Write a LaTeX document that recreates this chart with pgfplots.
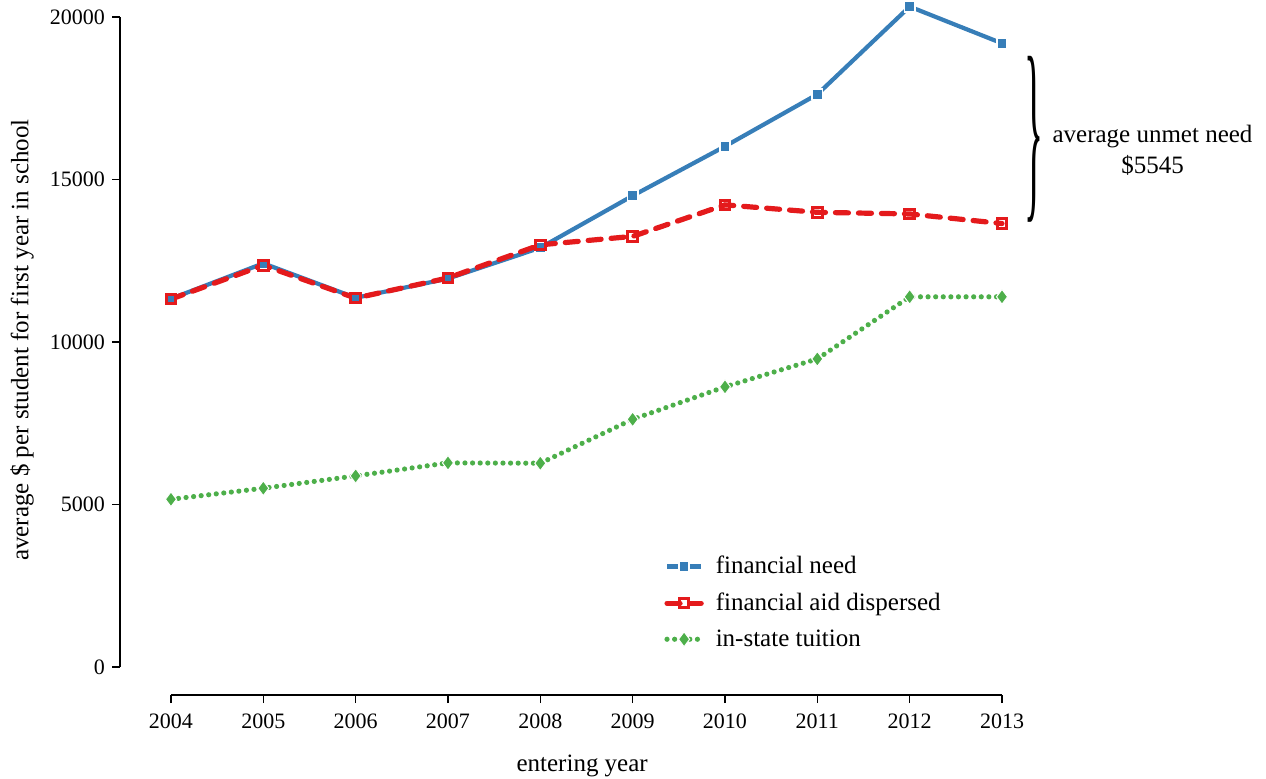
\documentclass[border=0pt]{standalone}
\usepackage{pgfplots}
\pgfplotsset{compat=1.18}
\usepackage{fontspec}
\setmainfont{Liberation Serif}
\definecolor{needblue}{HTML}{377EB8}
\definecolor{aidred}{HTML}{E41A1C}
\definecolor{tuitgreen}{HTML}{4DAF4A}

\begin{document}
\begin{tikzpicture}
\path[use as bounding box] (0pt,0pt) rectangle (633pt,389pt);
\begin{axis}[
  at={(60pt,41.5pt)}, anchor=south west,
  scale only axis, width=441pt, height=339pt,
  xmin=2003.448, xmax=2013, ymin=-862, ymax=20000,
  axis x line*=bottom, axis y line*=left,
  axis line style={draw=none},
  clip=false,
  xtick={2004,2005,...,2013},
  ytick={0,5000,10000,15000,20000},
  scaled y ticks=false,
  tick align=outside, major tick length=4pt,
  tick style={black, line width=0.6pt},
  /pgf/number format/1000 sep={},
  /pgf/number format/assume math mode=true,
  tick label style={font=\fontsize{11}{13}\selectfont},
  xticklabel style={yshift=-2pt},
  label style={font=\fontsize{12.5}{15}\selectfont},
  xlabel={entering year},
  ylabel={average \$ per student for first year in school},
  xlabel style={at={(axis description cs:0.524,-0.105)}, anchor=center},
  ylabel style={at={(axis description cs:-0.111,0.5236)}, anchor=center},
  legend style={at={(axis description cs:0.61,0.217)}, anchor=north west,
    draw=none, fill=none, font=\fontsize{12.5}{15}\selectfont,
    row sep=4pt, column sep=4pt},
  legend cell align=left,
]
\draw[line width=0.6pt] (axis cs:2003.448,0) -- (axis cs:2003.448,20000);
\draw[line width=0.6pt] (axis cs:2004,-862) -- (axis cs:2013,-862);

\addplot[needblue, line width=2.1pt, mark=square*, mark size=2.6pt,
  mark options={solid, fill=needblue, draw=white, line width=0.9pt}]
  coordinates {
  (2004,11330) (2005,12420) (2006,11360) (2007,11950) (2008,12900)
  (2009,14500) (2010,16020) (2011,17620) (2012,20320) (2013,19190)
};
\addlegendentry{financial need}

\addplot[aidred, line width=2.6pt, line cap=round, dash pattern=on 6.5pt off 5pt,
  mark=square, mark size=2.4pt,
  mark options={solid, draw=aidred, line width=1.5pt}]
  coordinates {
  (2004,11320) (2005,12360) (2006,11350) (2007,11970) (2008,12990)
  (2009,13250) (2010,14220) (2011,13990) (2012,13940) (2013,13645)
};
\addlegendentry{financial aid dispersed}

\addplot[tuitgreen, line width=2.6pt, line cap=round, dash pattern=on 0pt off 3.8pt,
  mark=diamond*, mark size=3.7pt,
  mark options={solid, fill=tuitgreen, draw=white, line width=0.5pt}]
  coordinates {
  (2004,5160) (2005,5500) (2006,5880) (2007,6280) (2008,6270)
  (2009,7620) (2010,8620) (2011,9480) (2012,11390) (2013,11390)
};
\addlegendentry{in-state tuition}

\node[anchor=west, inner sep=0pt] at (axis cs:2013.24,16230)
  {\resizebox*{9.5pt}{83pt}{\}}};
\node[align=center, font=\fontsize{12.5}{15.5}\selectfont] at (axis cs:2014.63,15900)
  {average unmet need\\\$5545};
\end{axis}
\end{tikzpicture}
\end{document}
